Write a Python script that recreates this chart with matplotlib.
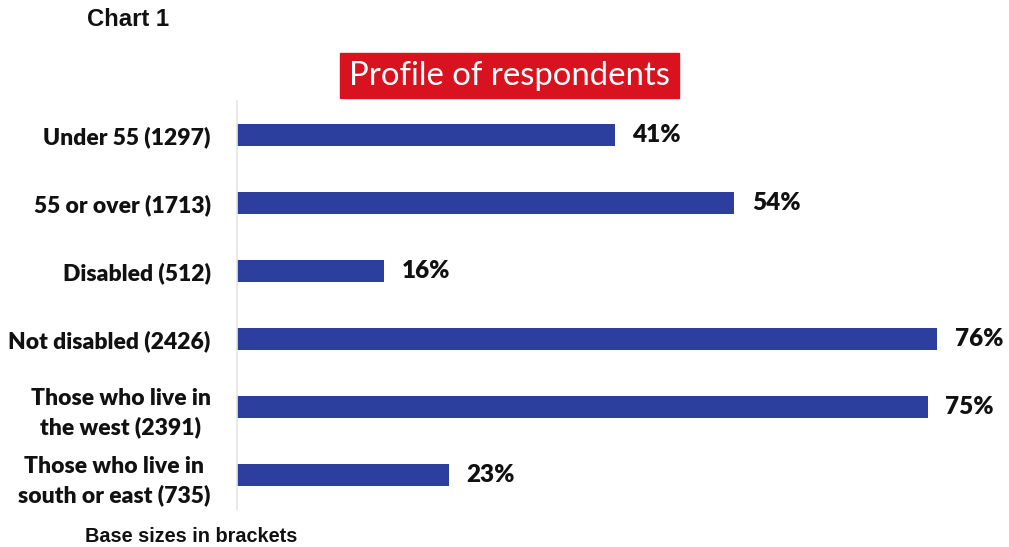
import matplotlib.pyplot as plt
from matplotlib.patches import Rectangle

# Data
categories = ["Under 55 (1297)", "55 or over (1713)", "Disabled (512)",
              "Not disabled (2426)", "Those who live in\nthe west (2391)",
              "Those who live in\nsouth or east (735)"]
values = [41, 54, 16, 76, 75, 23]
value_labels = ["41%", "54%", "16%", "76%", "75%", "23%"]

W, H = 1009, 547
fig = plt.figure(figsize=(W / 100, H / 100), dpi=100)

# axes placed in pixel terms: left edge at x=237, 76% reaches x=937
left, right, top, bottom = 237, 937, 101, 509
ax = fig.add_axes([left / W, 1 - bottom / H, (right - left) / W, (bottom - top) / H])

bar_col = "#2D3F9E"
ypos = list(range(len(categories)))
ax.barh(ypos, values, height=0.33, color=bar_col)
ax.set_xlim(0, 76)
ax.set_ylim(len(categories) - 0.5, -0.5)

for s in ["top", "right", "bottom"]:
    ax.spines[s].set_visible(False)
ax.spines["left"].set_color("#e4e4e4")
ax.spines["left"].set_linewidth(1.2)
ax.set_xticks([])
ax.set_yticks(ypos)
ax.set_yticklabels(categories, fontfamily="Lato", fontweight="heavy", fontsize=16.5,
                   color="#111111", linespacing=1.42, multialignment="center")
ax.tick_params(axis="y", length=0, pad=19)

for y, v, lab in zip(ypos, values, value_labels):
    ax.text(v + 1.9, y, lab, va="center", ha="left", fontfamily="Lato",
            fontweight="heavy", fontsize=17.5, color="#111111", clip_on=False)

# title box
fig.patches.append(Rectangle((340 / W, 1 - 98 / H), (679 - 340) / W, 45 / H,
                             transform=fig.transFigure, color="#D8121E", zorder=0))
fig.text((340 + 679) / 2 / W, 1 - 76 / H, "Profile of respondents", ha="center",
         va="center", color="white", fontfamily="Lato", fontsize=23.7)

fig.text(87 / W, 1 - 20 / H, "Chart 1", ha="left", va="center",
         fontfamily="Liberation Sans", fontweight="bold", fontsize=17.2, color="#111111")
fig.text(85 / W, 1 - 537 / H, "Base sizes in brackets", ha="left", va="center",
         fontfamily="Liberation Sans", fontweight="bold", fontsize=14.3, color="#111111")

fig.savefig("out.png", dpi=100, facecolor="white")
